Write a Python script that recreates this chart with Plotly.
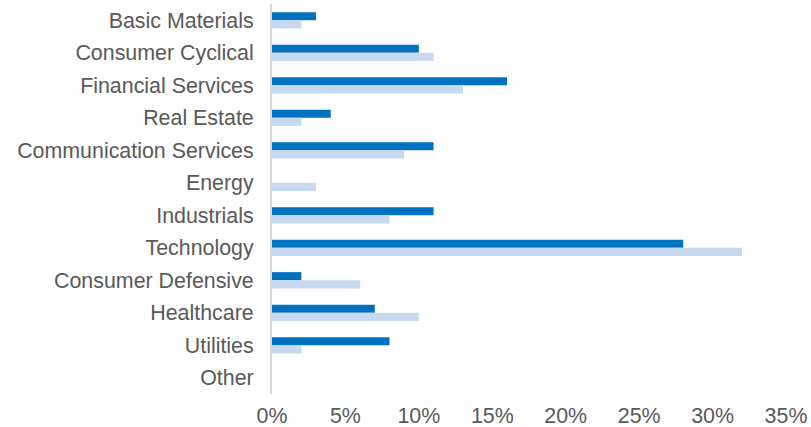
import plotly.graph_objects as go

categories = ["Basic Materials", "Consumer Cyclical", "Financial Services", "Real Estate",
              "Communication Services", "Energy", "Industrials", "Technology",
              "Consumer Defensive", "Healthcare", "Utilities", "Other"]
series_a = [3, 10, 16, 4, 11, 0, 11, 28, 2, 7, 8, 0]
series_b = [2, 11, 13, 2, 9, 3, 8, 32, 6, 10, 2, 0]
x_ticks = [0, 5, 10, 15, 20, 25, 30, 35]
x_tick_labels = [f"{v}%" for v in x_ticks]

fig = go.Figure()
fig.add_trace(go.Bar(y=categories, x=series_a, orientation="h", marker_color="#0070C0",
                     marker_line_width=0, name="A"))
fig.add_trace(go.Bar(y=categories, x=series_b, orientation="h", marker_color="#C6D9F1",
                     marker_line_width=0, name="B"))

fig.update_layout(
    width=811, height=427,
    margin=dict(l=272, r=25, t=4, b=33),
    barmode="group", bargap=0.5, bargroupgap=0,
    showlegend=False,
    plot_bgcolor="white", paper_bgcolor="white",
    font=dict(family="Liberation Sans, Arial, sans-serif", size=21.4, color="#595959"),
)
fig.update_xaxes(range=[0, 35], tickvals=x_ticks, ticktext=x_tick_labels,
                 showgrid=False, zeroline=False, showline=False, ticks="",
                 ticklabelstandoff=7, automargin=False)
fig.update_yaxes(autorange="reversed", showgrid=False, zeroline=False,
                 showline=True, linecolor="#D9D9D9", linewidth=2, ticks="",
                 ticklabelstandoff=12, automargin=False)

fig.write_html("out.html")
